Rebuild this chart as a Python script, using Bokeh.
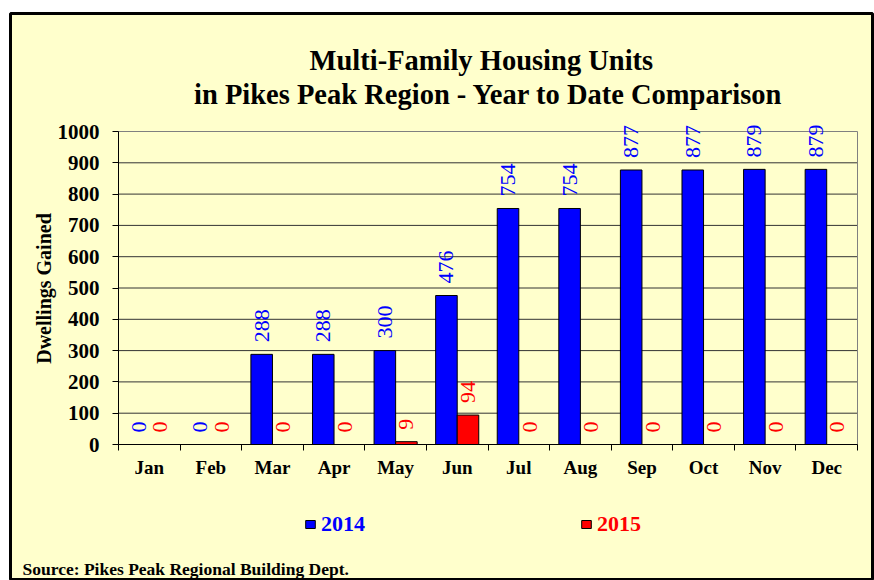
import math
from bokeh.plotting import figure
from bokeh.models import (ColumnDataSource, Range1d, FixedTicker, Label, LabelSet,
                          Legend, LegendItem, LinearAxis)
from bokeh.transform import dodge
from bokeh.embed import file_html
from bokeh.resources import INLINE

months = ["Jan", "Feb", "Mar", "Apr", "May", "Jun", "Jul", "Aug", "Sep", "Oct", "Nov", "Dec"]
units_2014 = [0, 0, 288, 288, 300, 476, 754, 754, 877, 877, 879, 879]
units_2015 = [0, 0, 0, 0, 9, 94, 0, 0, 0, 0, 0, 0]
y_ticks = [0, 100, 200, 300, 400, 500, 600, 700, 800, 900, 1000]
series_names = ["2014", "2015"]

FONT = "Liberation Serif"
BG = "#FFFFCC"
BLUE = "#0000FF"
RED = "#FF0000"

# ---- layout (page pixels) ----
OX, OY = 0, 0               # canvas origin on the page
W, H = 874, 580
MB_L, MB_T, MB_R, MB_B = 10, 13, 2, 0
F_L, F_T = OX + MB_L, OY + MB_T          # frame edges on page
F_R, F_B = OX + W - MB_R, OY + H - MB_B
A_L, A_R, A_T, A_B = 118, 857, 131, 444  # plot area on page
n = len(months)
ymax = y_ticks[-1]
kx = (A_R - A_L) / n
ky = (A_B - A_T) / ymax
x_rng = Range1d(-(A_L - F_L) / kx, n + (F_R - A_R) / kx)
y_rng = Range1d(-(F_B - A_B) / ky, ymax + (A_T - F_T) / ky)


def px(x):
    return (x - A_L) / kx


def py(y):
    return (A_B - y) / ky


pos = [i + 0.5 for i in range(n)]
src = ColumnDataSource(dict(
    x=pos,
    a=units_2014,
    b=units_2015,
    la=[str(v) for v in units_2014],
    lb=[str(v) for v in units_2015],
))

p = figure(width=W, height=H, output_backend="svg", toolbar_location=None,
           x_range=x_rng, y_range=y_rng, x_axis_location=None, y_axis_location=None,
           min_border_left=MB_L, min_border_right=MB_R, min_border_top=MB_T,
           min_border_bottom=MB_B)
p.background_fill_color = BG
p.border_fill_color = "white"
p.outline_line_color = "black"
p.outline_line_width = 3
p.grid.visible = False

# gridlines and plot-area border
gy = y_ticks[1:-1]
p.segment(x0=[0] * len(gy), x1=[n] * len(gy), y0=gy, y1=gy,
          line_color="#333333", line_width=1)
p.quad(left=[0], right=[n], bottom=[0], top=[ymax], fill_alpha=0,
       line_color="#808080", line_width=1)

# bars
r1 = p.vbar(x=dodge("x", -0.175), top="a", width=0.35, source=src,
            fill_color=BLUE, line_color="black", line_width=1)
r2 = p.vbar(x=dodge("x", 0.175), top="b", width=0.35, source=src,
            fill_color=RED, line_color="black", line_width=1)

# value labels
for col, ycol, off, color in (("la", "a", -0.175, BLUE), ("lb", "b", 0.175, RED)):
    p.add_layout(LabelSet(x=dodge("x", off), y=ycol, text=col, source=src,
                          angle=math.pi / 2, y_offset=12,
                          text_align="left", text_baseline="middle",
                          text_font=FONT, text_font_size="22px", text_color=color))

# axes
yaxis = LinearAxis(fixed_location=0, bounds=(0, ymax), ticker=FixedTicker(ticks=y_ticks))
yaxis.major_label_text_font = FONT
yaxis.major_label_text_font_size = "21px"
yaxis.major_label_text_font_style = "bold"
yaxis.major_label_text_color = "black"
yaxis.major_tick_out = 6
yaxis.major_tick_in = 0
yaxis.minor_tick_out = 0
yaxis.minor_tick_in = 0
yaxis.major_label_standoff = 13
yaxis.axis_line_color = "black"
yaxis.major_tick_line_color = "black"
p.add_layout(yaxis, "left")

xaxis = LinearAxis(fixed_location=0, bounds=(0, n),
                   ticker=FixedTicker(ticks=pos, minor_ticks=list(range(n + 1))))
xaxis.major_label_overrides = {x: m for x, m in zip(pos, months)}
xaxis.major_label_text_font = FONT
xaxis.major_label_text_font_size = "19px"
xaxis.major_label_text_font_style = "bold"
xaxis.major_label_text_color = "black"
xaxis.major_tick_out = 0
xaxis.major_tick_in = 0
xaxis.minor_tick_out = 6
xaxis.minor_tick_in = 0
xaxis.minor_tick_line_color = "black"
xaxis.major_label_standoff = 6
xaxis.axis_line_color = "black"
p.add_layout(xaxis, "below")

# title
for txt, base in (("Multi-Family  Housing  Units", 60),
                  ("in Pikes Peak Region - Year to Date Comparison", 94)):
    p.add_layout(Label(x=px(488), y=py(base), text=txt, text_align="center",
                       text_baseline="alphabetic", text_font=FONT,
                       text_font_size="28.5px", text_font_style="bold",
                       text_color="black"))

# y axis label
p.add_layout(Label(x=px(43), y=py(288), text="Dwellings Gained", angle=math.pi / 2,
                   text_align="center", text_baseline="middle", text_font=FONT,
                   text_font_size="20px", text_font_style="bold", text_color="black"))

# source
p.add_layout(Label(x=px(22), y=py(568), text="Source: Pikes Peak Regional  Building Dept.",
                   text_align="left", text_baseline="alphabetic", text_font=FONT,
                   text_font_size="17.5px", text_font_style="bold", text_color="black"))

# legends
for name, rend, lx, color in ((series_names[0], r1, 304, BLUE),
                              (series_names[1], r2, 580, RED)):
    leg = Legend(items=[LegendItem(label=name, renderers=[rend])],
                 location=(lx - F_L, F_B - 537),
                 orientation="horizontal", padding=0, margin=0,
                 border_line_color=None, background_fill_alpha=0,
                 glyph_width=12, glyph_height=10, label_standoff=5,
                 label_text_font=FONT, label_text_font_size="22px",
                 label_text_font_style="bold", label_text_color=color)
    p.add_layout(leg)

open("out.html", "w").write(file_html(p, INLINE))
